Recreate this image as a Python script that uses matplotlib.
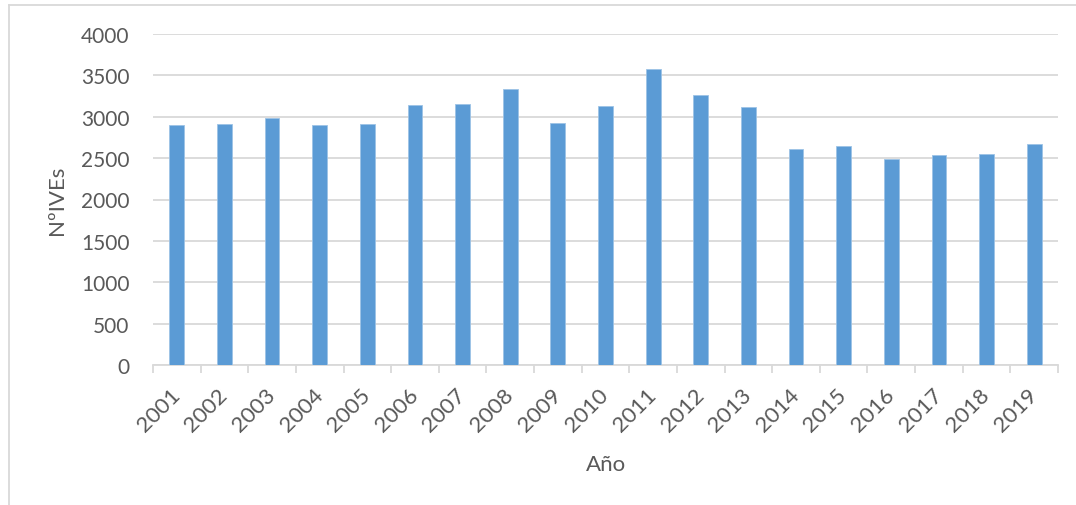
import matplotlib.pyplot as plt
from matplotlib.lines import Line2D

years = ["2001", "2002", "2003", "2004", "2005", "2006", "2007", "2008", "2009", "2010",
         "2011", "2012", "2013", "2014", "2015", "2016", "2017", "2018", "2019"]
ives = [2901, 2913, 2989, 2901, 2910, 3139, 3151, 3336, 2922, 3130,
        3577, 3260, 3118, 2612, 2651, 2491, 2536, 2552, 2675]
y_ticks = [0, 500, 1000, 1500, 2000, 2500, 3000, 3500, 4000]

plt.rcParams["font.family"] = ["Lato", "DejaVu Sans"]
text_color = "#595959"
grid_color = "#D9D9D9"

fig = plt.figure(figsize=(10.76, 5.06), dpi=100)
ax = fig.add_axes([153 / 1076, 1 - 366 / 506, 905 / 1076, 331 / 506])

x = list(range(len(years)))
ax.bar(x, ives, width=0.31, color="#5B9BD5", edgecolor="#9DC3E6", linewidth=0.6, zorder=3)

ax.set_xlim(-0.5, len(years) - 0.5)
ax.set_ylim(0, 4000)
ax.set_yticks(y_ticks)
ax.set_yticklabels([str(v) for v in y_ticks])
ax.yaxis.grid(True, color=grid_color, linewidth=1.3, zorder=0)
ax.tick_params(axis="y", length=0, pad=17, labelsize=15, labelcolor=text_color)

ax.set_xticks(x)
ax.set_xticklabels(years, rotation=45, ha="right", va="center", rotation_mode="anchor")
ax.set_xticks([i - 0.5 for i in range(len(years) + 1)], minor=True)
ax.tick_params(axis="x", which="major", length=0, pad=19, labelsize=16, labelcolor=text_color)
ax.tick_params(axis="x", which="minor", length=6, width=1.3, color=grid_color)

for s in ["top", "right", "left"]:
    ax.spines[s].set_visible(False)
ax.spines["bottom"].set_color(grid_color)
ax.spines["bottom"].set_linewidth(1.3)

ax.set_ylabel("NºIVEs", fontsize=16, color=text_color, labelpad=10)
ax.set_xlabel("Año", fontsize=16, color=text_color, labelpad=14)

# chart frame
fig.add_artist(Line2D([8.5 / 1076, 8.5 / 1076], [0, 1 - 5.5 / 506], color=grid_color, linewidth=1.3))
fig.add_artist(Line2D([8.5 / 1076, 1], [1 - 5.5 / 506, 1 - 5.5 / 506], color=grid_color, linewidth=1.3))

fig.savefig("out.png", dpi=100)
